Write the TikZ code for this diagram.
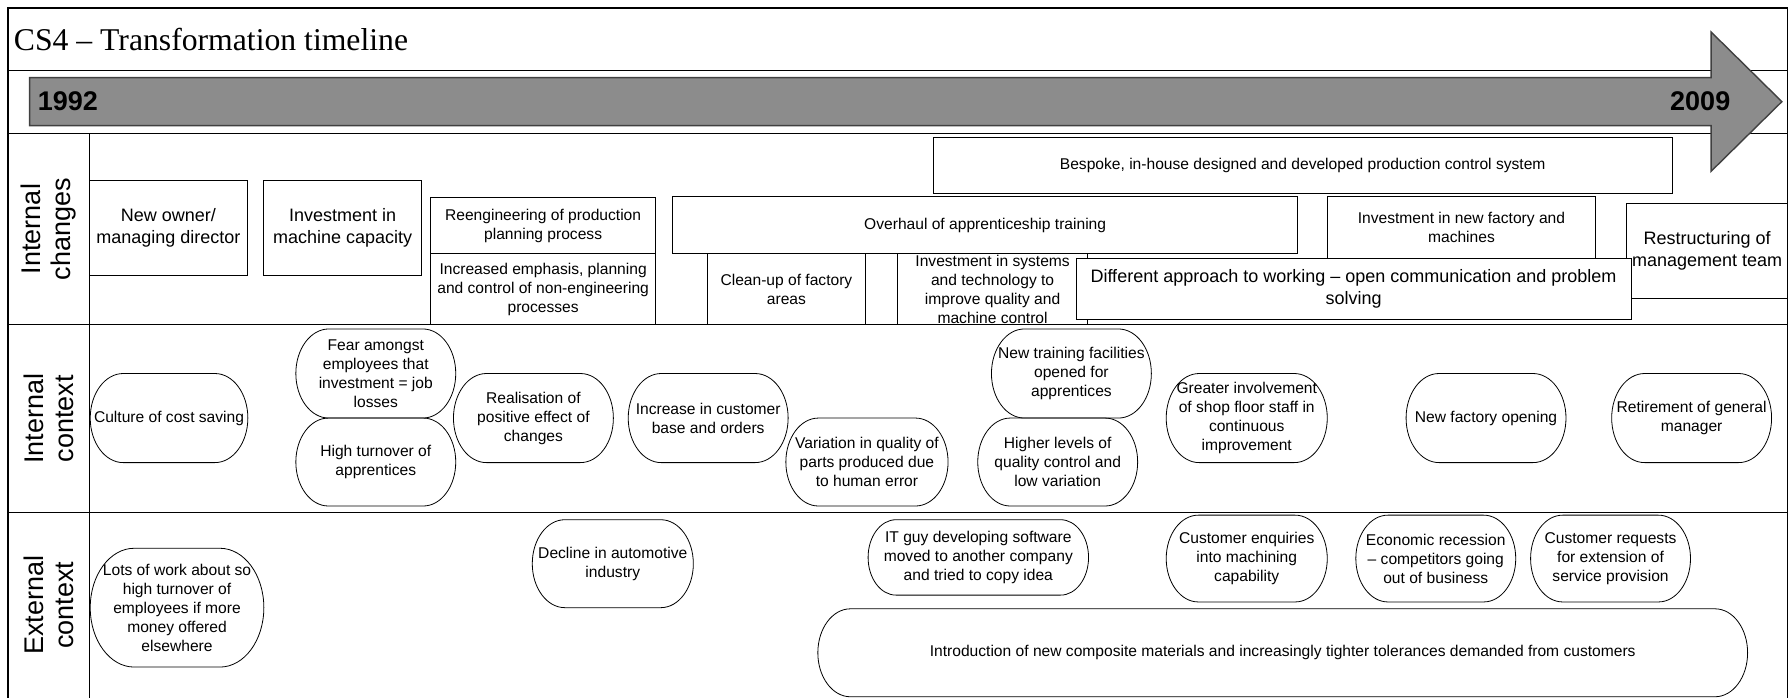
\documentclass[tikz,border=0pt]{standalone}
\usepackage{fontspec}
\setmainfont{Liberation Sans}
\newfontfamily\titlefont{Liberation Serif}
\newcommand\smallfont{\fontsize{15.6}{19}\selectfont}
\newcommand\largefont{\fontsize{18}{21.7}\selectfont}
\newcommand\rowfont{\fontsize{27}{30}\selectfont}

% rectangular event box: [options]{name}{x1}{y1}{x2}{y2}{text}
\newcommand\changebox[7][]{%
  \node[chbox,#1,minimum width={(#5-#3)*1.1423pt},minimum height={(#6-#4)*1.1423pt}]
    (#2) at ({(#3+#5)/2},{(#4+#6)/2}) {#7};}

% capsule (flat top/bottom, elliptic ends): {name}{x1}{y1}{x2}{y2}{text}
\newcommand\capsule[6]{%
  \pgfmathsetmacro\capRy{(#5-#3)/2}%
  \pgfmathsetmacro\capRx{min(0.37*(#5-#3),(#4-#2)/2)}%
  \pgfmathsetmacro\capYm{(#3+#5)/2}%
  \pgfmathsetmacro\capKx{0.5523*\capRx}%
  \pgfmathsetmacro\capKy{0.5523*\capRy}%
  \draw[capline] ({#2+\capRx},#3) -- ({#4-\capRx},#3)
    .. controls ({#4-\capRx+\capKx},#3) and (#4,{\capYm-\capKy}) .. (#4,\capYm)
    .. controls (#4,{\capYm+\capKy}) and ({#4-\capRx+\capKx},#5) .. ({#4-\capRx},#5)
    -- ({#2+\capRx},#5)
    .. controls ({#2+\capRx-\capKx},#5) and (#2,{\capYm+\capKy}) .. (#2,\capYm)
    .. controls (#2,{\capYm-\capKy}) and ({#2+\capRx-\capKx},#3) .. cycle;
  \node[captext] (#1) at ({(#2+#4)/2},\capYm) {#6};}

\begin{document}
\begin{tikzpicture}[x=1.1423pt,y=-1.1423pt,
  gridline/.style={draw=black,line width=1.1pt},
  chbox/.style={draw=black,line width=0.8pt,fill=white,inner sep=0pt,align=center,font=\smallfont},
  capline/.style={draw=black,line width=0.8pt},
  captext/.style={align=center,inner sep=0pt,font=\smallfont},
  rowlabel/.style={rotate=90,align=center,inner sep=0pt,font=\rowfont},
  timearrow/.style={fill=black!45,draw=black!75,line width=1.4pt,line join=miter},
  year/.style={font=\fontsize{27}{29}\selectfont\bfseries,inner sep=0pt}]
\useasboundingbox (0,0) rectangle (1568,611);
\fill[white] (0,0) rectangle (1568,611);

% frame and swimlane grid
\draw[gridline] (7,7) rectangle (1565,616);
\draw[gridline] (7,62) -- (1565,62);
\draw[gridline] (7,117) -- (1565,117);
\draw[gridline] (7,284) -- (1565,284);
\draw[gridline] (7,449) -- (1565,449);
\draw[gridline] (78,117) -- (78,616);

% title
\node[anchor=base west,inner sep=0pt,font=\titlefont\fontsize{31.7}{34}\selectfont] (title) at (12,44) {CS4 – Transformation timeline};

% time arrow
\draw[timearrow] (26,68) -- (1498,68) -- (1498,28) -- (1560,89) -- (1498,150) -- (1498,110) -- (26,110) -- cycle;
\node[year,anchor=west] (ystart) at (33,89) {1992};
\node[year,anchor=east] (yend) at (1515,89) {2009};

% lane labels
\node[rowlabel] (lanechg) at (42.5,200.5) {Internal\\changes};
\node[rowlabel] (laneint) at (42.5,366.5) {Internal\\context};
\node[rowlabel] (laneext) at (42.5,530) {External\\context};

% internal changes
\changebox[font=\largefont]{owner}{78}{158}{217}{241}{New owner/\\managing director};
\changebox[font=\largefont]{capacity}{231}{158}{369}{241}{Investment in\\machine capacity};
\changebox{reeng}{377}{173}{574}{222}{Reengineering of production\\planning process};
\changebox{emph}{377}{222}{574}{284}{Increased emphasis, planning\\and control of non-engineering\\processes};
\changebox{bespoke}{817}{120}{1464}{169}{Bespoke, in-house designed and developed production control system};
\changebox{overhaul}{589}{172}{1136}{222}{Overhaul of apprenticeship training};
\changebox{cleanup}{619}{222}{758}{284}{Clean-up of factory\\areas};
\changebox{systems}{786}{222}{952}{284}{Investment in systems\\and technology to\\improve quality and\\machine control};
\changebox{factory}{1162}{172}{1397}{226}{Investment in new factory and\\machines};
\changebox[font=\largefont]{restruct}{1424}{178}{1565}{261}{Restructuring of\\management team};
\changebox[font=\largefont]{approach}{942}{226}{1428}{280}{Different approach to working – open communication and problem\\solving};

% internal context
\capsule{costsave}{79}{327}{217}{405}{Culture of cost saving}
\capsule{fear}{259}{288}{399}{366}{Fear amongst\\employees that\\investment = job\\losses}
\capsule{turnover}{259}{366}{399}{443}{High turnover of\\apprentices}
\capsule{realise}{397}{327}{537}{405}{Realisation of\\positive effect of\\changes}
\capsule{custbase}{550}{327}{690}{405}{Increase in customer\\base and orders}
\capsule{variation}{688}{366}{830}{443}{Variation in quality of\\parts produced due\\to human error}
\capsule{training}{868}{288}{1008}{366}{New training facilities\\opened for\\apprentices}
\capsule{quality}{856}{366}{996}{443}{Higher levels of\\quality control and\\low variation}
\capsule{involve}{1021}{327}{1162}{405}{Greater involvement\\of shop floor staff in\\continuous\\improvement}
\capsule{newfact}{1231}{327}{1371}{405}{New factory opening}
\capsule{retire}{1411}{327}{1551}{405}{Retirement of general\\manager}

% external context
\capsule{lotswork}{79}{480}{231}{584}{Lots of work about so\\high turnover of\\employees if more\\money offered\\elsewhere}
\capsule{auto}{466}{455}{607}{532}{Decline in automotive\\industry}
\capsule{itguy}{760}{455}{953}{521}{IT guy developing software\\moved to another company\\and tried to copy idea}
\capsule{enquiry}{1021}{451}{1162}{527}{Customer enquiries\\into machining\\capability}
\capsule{recession}{1187}{451}{1327}{527}{Economic recession\\– competitors going\\out of business}
\capsule{requests}{1340}{451}{1480}{527}{Customer requests\\for extension of\\service provision}
\capsule{materials}{716}{533}{1530}{610}{Introduction of new composite materials and increasingly tighter tolerances demanded from customers}
\end{tikzpicture}
\end{document}
